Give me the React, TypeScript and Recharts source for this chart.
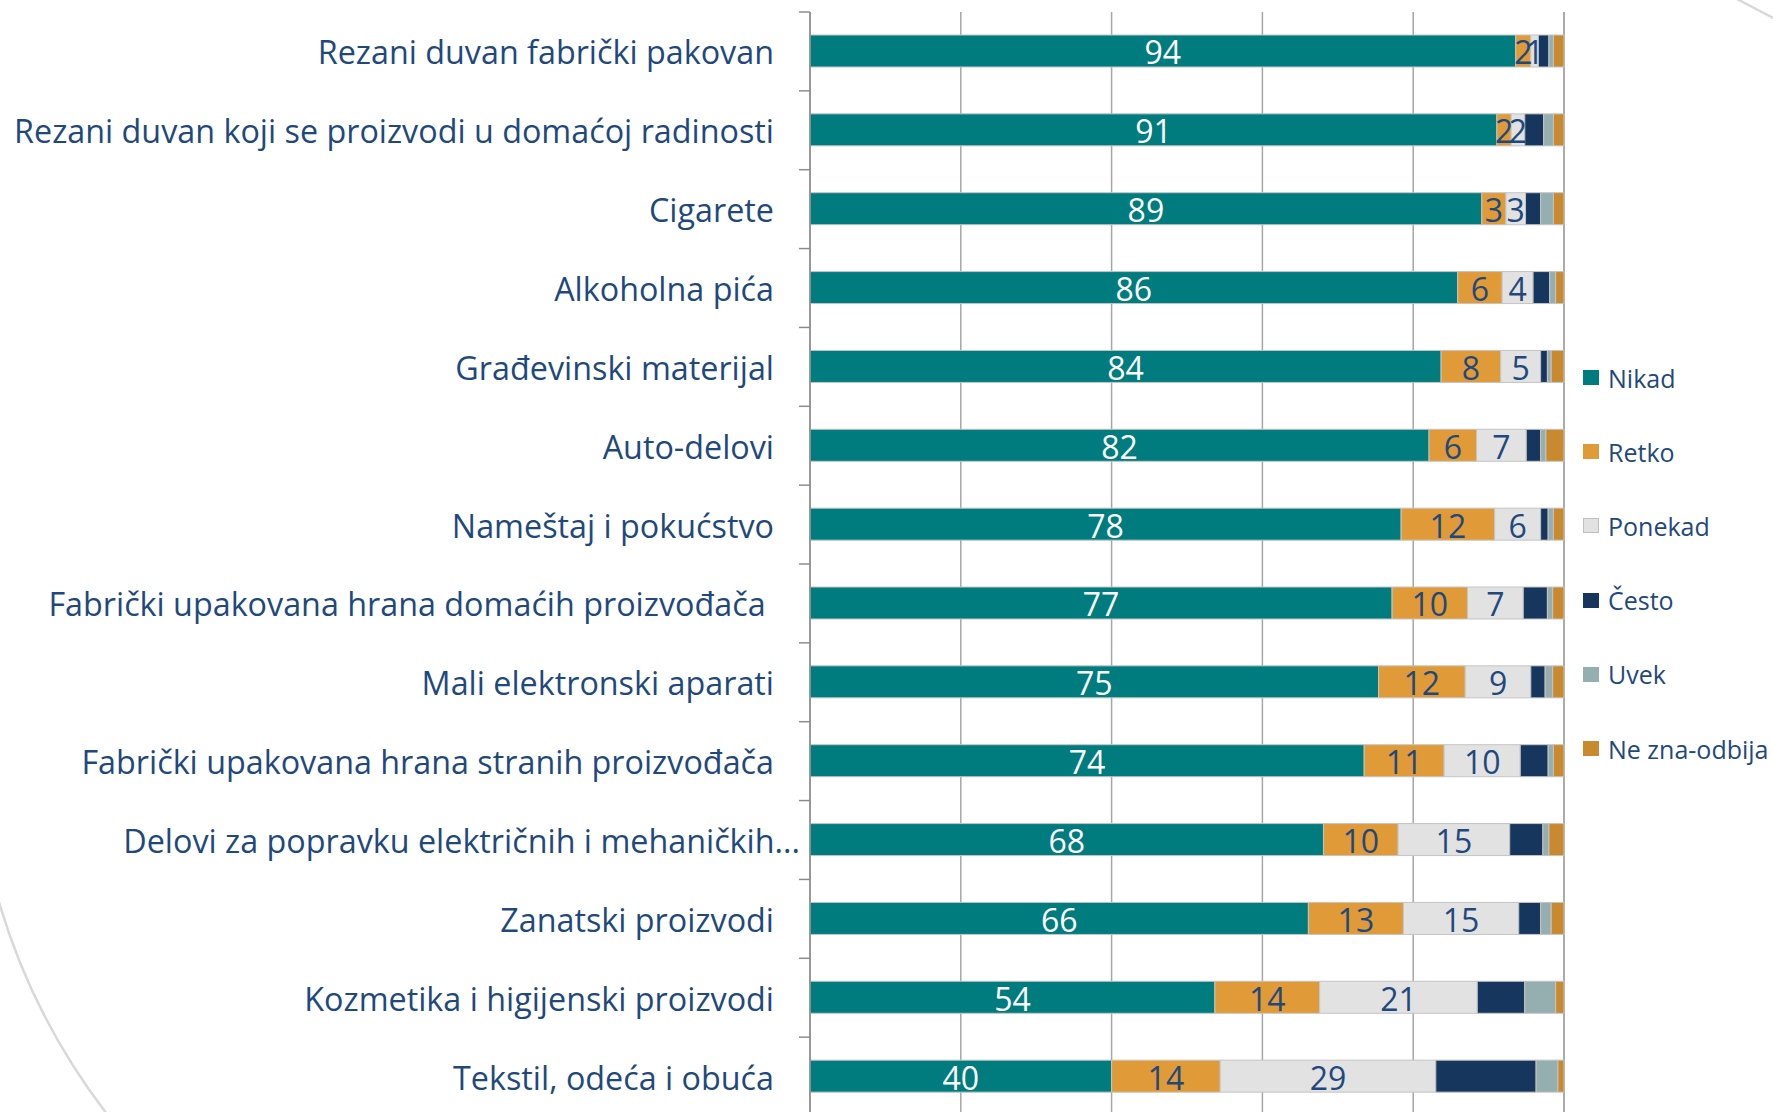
import React from "react";
import { BarChart, Bar, XAxis, YAxis, CartesianGrid, LabelList, Legend } from "recharts";

const categories = [
  "Rezani duvan fabrički pakovan",
  "Rezani duvan koji se proizvodi u domaćoj radinosti",
  "Cigarete",
  "Alkoholna pića",
  "Građevinski materijal",
  "Auto-delovi",
  "Nameštaj i pokućstvo",
  "Fabrički upakovana hrana domaćih proizvođača ",
  "Mali elektronski aparati",
  "Fabrički upakovana hrana stranih proizvođača",
  "Delovi za popravku električnih i mehaničkih...",
  "Zanatski proizvodi",
  "Kozmetika i higijenski proizvodi",
  "Tekstil, odeća i obuća",
];

const nikad = [93.6, 91.1, 89.1, 85.9, 83.7, 82.1, 78.4, 77.2, 75.4, 73.5, 68.1, 66.1, 53.7, 40.0];
const retko = [2.0, 1.9, 3.2, 5.9, 7.9, 6.3, 12.4, 10.0, 11.5, 10.6, 9.9, 12.6, 13.9, 14.4];
const ponekad = [1.0, 1.8, 2.6, 4.1, 5.3, 6.6, 6.1, 7.4, 8.7, 10.1, 14.8, 15.3, 20.9, 28.6];
const cesto = [1.4, 2.5, 2.0, 2.2, 0.9, 1.9, 1.0, 3.2, 1.9, 3.7, 4.4, 2.9, 6.3, 13.3];
const uvek = [0.6, 1.3, 1.7, 0.8, 0.5, 0.7, 0.7, 0.7, 1.0, 0.7, 0.8, 1.4, 4.1, 2.9];
const neZna = [1.4, 1.4, 1.4, 1.1, 1.7, 2.4, 1.4, 1.5, 1.5, 1.4, 2.0, 1.7, 1.1, 0.8];

const xTicks = [0, 20, 40, 60, 80, 100];

const seriesNames = ["Nikad", "Retko", "Ponekad", "Često", "Uvek", "Ne zna-odbija"];
const seriesKeys = ["nikad", "retko", "ponekad", "cesto", "uvek", "neZna"];
const seriesColors = ["#007C7F", "#E09A38", "#E2E2E2", "#17365D", "#95AEAF", "#C98A2F"];

const data = categories.map((name, i) => ({
  name,
  nikad: nikad[i],
  retko: retko[i],
  ponekad: ponekad[i],
  cesto: cesto[i],
  uvek: uvek[i],
  neZna: neZna[i],
}));

const FONT = "'Open Sans', 'Noto Sans', sans-serif";
const TEXT = "#1F497D";
const CHART_H = 1116;
const MARGIN_TOP = 12;
const BAND = (CHART_H - MARGIN_TOP) / categories.length;

const CatTick = (props: any) => {
  const { x, y, payload } = props;
  const label: string = payload.value;
  const trunc = label.endsWith("...");
  return (
    <g>
      <line x1={x - 11} x2={x} y1={y - BAND / 2} y2={y - BAND / 2} stroke="#8C8C8C" strokeWidth={1.5} />
      <text
        x={trunc ? x - 10 : x - 36}
        y={y}
        textAnchor="end"
        dominantBaseline="central"
        fill={TEXT}
        fontFamily={FONT}
        fontSize={32.3}
        style={{ whiteSpace: "pre" }}
      >
        {label}
      </text>
    </g>
  );
};

const LegendContent = () => (
  <div style={{ fontFamily: FONT }}>
    {seriesNames.map((n, i) => (
      <div
        key={n}
        style={{ height: 74.2, display: "flex", alignItems: "center", whiteSpace: "nowrap" }}
      >
        <span
          style={{
            display: "inline-block",
            width: 16,
            height: 15,
            boxSizing: "border-box",
            background: seriesColors[i],
            border: i === 2 ? "1px solid #BFBFBF" : "none",
            marginRight: 9,
          }}
        />
        <span style={{ color: TEXT, fontSize: 25 }}>{n}</span>
      </div>
    ))}
  </div>
);

const fmt = (v: any) => Math.round(Number(v));

export default function App() {
  return (
    <div style={{ position: "absolute", left: 0, top: 0, width: 1773, height: 1112, overflow: "hidden", background: "#fff" }}>
      <svg width={1773} height={1112} style={{ position: "absolute", left: 0, top: 0 }}>
        <path d="M -14 850 A 652 652 0 0 0 110 1118" fill="none" stroke="#D9D9D9" strokeWidth={2.5} />
        <path d="M 1735 -2 L 1777 20" fill="none" stroke="#D9D9D9" strokeWidth={2.5} />
      </svg>
      <div style={{ position: "absolute", left: 0, top: 0 }}>
        <BarChart
          width={1773}
          height={CHART_H}
          data={data}
          layout="vertical"
          margin={{ top: MARGIN_TOP, right: 209, bottom: 0, left: 0 }}
          barSize={32}
        >
          <CartesianGrid horizontal={false} stroke="#A6A6A6" strokeWidth={1.5} />
          <XAxis type="number" domain={[0, 100]} ticks={xTicks} hide />
          <YAxis
            type="category"
            dataKey="name"
            width={810}
            axisLine={{ stroke: "#8C8C8C", strokeWidth: 1.5 }}
            tickLine={false}
            tickSize={0}
            tickMargin={0}
            tick={<CatTick />}
            interval={0}
          />
          <Legend
            layout="vertical"
            align="center"
            verticalAlign="middle"
            content={<LegendContent />}
            wrapperStyle={{ position: "absolute", left: 1583, top: 340.5, right: "auto", bottom: "auto", width: 200, height: "auto" }}
          />
          {seriesKeys.map((k, i) => (
            <Bar
              key={k}
              dataKey={k}
              name={seriesNames[i]}
              stackId="a"
              fill={seriesColors[i]}
              stroke="#C4C4C4"
              strokeWidth={1}
              isAnimationActive={false}
            >
              {i < 3 && (
                <LabelList
                  dataKey={k}
                  position="center"
                  formatter={fmt}
                  fill={i === 0 ? "#FFFFFF" : TEXT}
                  fontFamily={FONT}
                  fontSize={32}
                  dy={2}
                />
              )}
            </Bar>
          ))}
        </BarChart>
      </div>
    </div>
  );
}
